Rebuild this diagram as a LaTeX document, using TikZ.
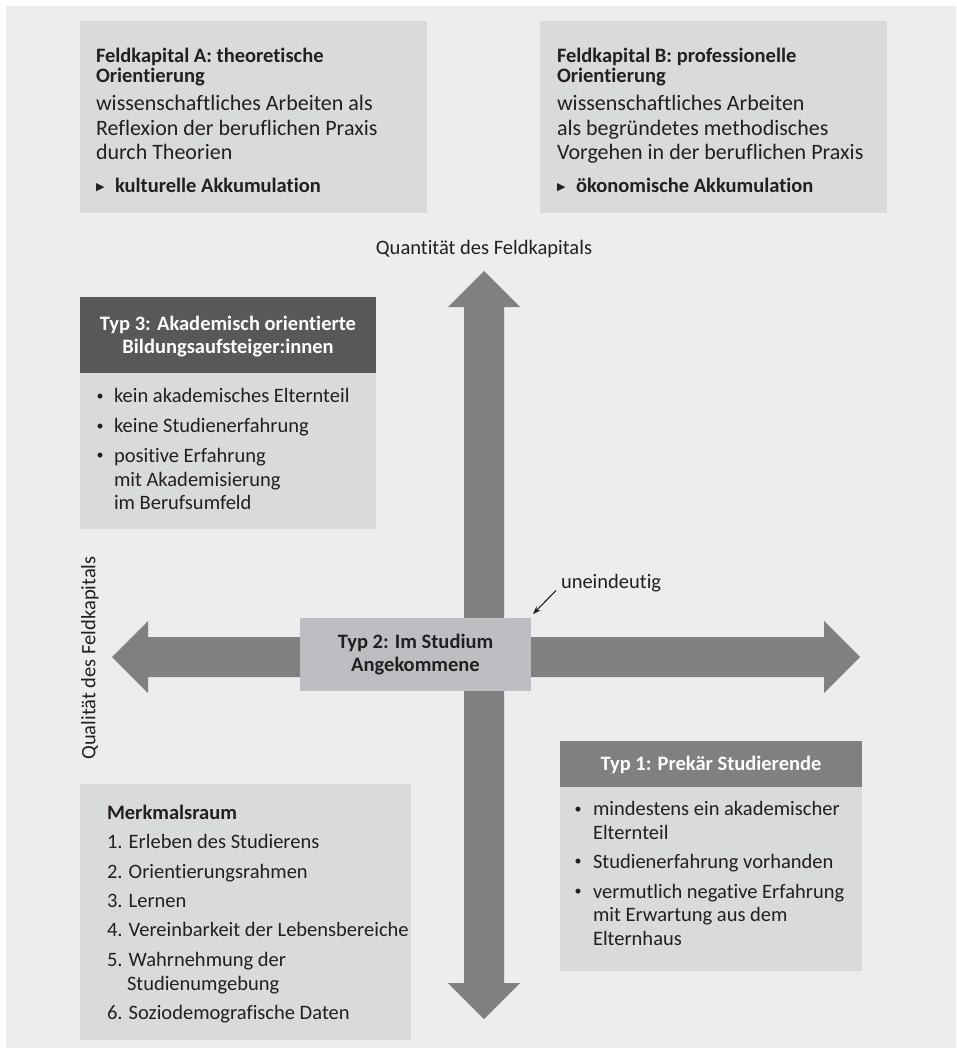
\documentclass[tikz,border=0pt]{standalone}
\usepackage{fontspec}
\setmainfont{Carlito}[Ligatures=NoCommon]
\newfontfamily\symfont{DejaVu Sans}
\usetikzlibrary{arrows.meta}
\definecolor{bgc}{HTML}{EDEDED}
\definecolor{boxc}{HTML}{D9DADC}
\definecolor{arrc}{HTML}{808083}
\definecolor{midc}{HTML}{BDBEC1}
\definecolor{darkc}{HTML}{58585A}
\definecolor{txtc}{HTML}{231F20}
\newcommand\fsz{\fontsize{20.5}{24}\selectfont}
\newcommand\fszl{\fontsize{22}{26}\selectfont}
\newcommand\tri{\makebox[19pt][l]{\symfont\fontsize{11}{11}\selectfont\raisebox{1.5pt}{▶}}}
\newcommand\bu{{\fontsize{14}{14}\selectfont\raisebox{2.5pt}{•}}}
\tikzset{
  panel/.style={fill=#1, draw=none, inner sep=0pt, outer sep=0pt, anchor=north west},
  tx/.style={anchor=base west, inner sep=0pt, outer sep=0pt, text=txtc, font=\fsz},
  txb/.style={tx, font=\fsz\bfseries},
  txl/.style={tx, font=\fszl},
  hd/.style={anchor=base, inner sep=0pt, outer sep=0pt, text=white, font=\fsz\bfseries},
  bul/.style={anchor=base, inner sep=0pt, outer sep=0pt, text=txtc, font=\fsz},
  bigarrow/.style={fill=arrc, draw=none},
}
\begin{document}
\begin{tikzpicture}[x=1pt,y=-1pt]
\useasboundingbox (0,0) rectangle (956,1048);
\fill[bgc] (6,6) rectangle (956,1048);

% Feldkapital A
\node[panel=boxc, minimum width=347pt, minimum height=192pt] (boxA) at (80,21) {};
\node[txb] (a1) at (96,62.5) {Feldkapital A: theoretische};
\node[txb] (a2) at (96,83) {Orientierung};
\node[txl] (a3) at (96,111) {wissenschaftliches Arbeiten als};
\node[txl] (a4) at (96,136) {Reflexion der beruflichen Praxis};
\node[txl] (a5) at (96,160) {durch Theorien};
\node[txb] (a6) at (96,192.5) {\tri kulturelle Akkumulation};

% Feldkapital B
\node[panel=boxc, minimum width=347pt, minimum height=192pt] (boxB) at (540,21) {};
\node[txb] (b1) at (557,62.5) {Feldkapital B: professionelle};
\node[txb] (b2) at (557,83) {Orientierung};
\node[txl] (b3) at (557,111) {wissenschaftliches Arbeiten};
\node[txl] (b4) at (557,136) {als begründetes methodisches};
\node[txl] (b5) at (557,160) {Vorgehen in der beruflichen Praxis};
\node[txb] (b6) at (557,192.5) {\tri ökonomische Akkumulation};

% axes
\fill[bigarrow] (484,271) -- (520,307) -- (504,307) -- (504,983) -- (520,983)
  -- (484,1019) -- (448,983) -- (464,983) -- (464,307) -- (448,307) -- cycle;
\fill[bigarrow] (112,657) -- (148,621) -- (148,637) -- (824,637) -- (824,621)
  -- (860,657) -- (824,693) -- (824,677) -- (148,677) -- (148,693) -- cycle;
\node[tx, anchor=base] (quant) at (484,255) {Quantität des Feldkapitals};
\node[tx, anchor=center, rotate=90] (qual) at (90,658) {Qualität des Feldkapitals};

% Typ 3
\node[panel=boxc, minimum width=296pt, minimum height=232pt] (t3) at (80,297) {};
\node[panel=darkc, minimum width=296pt, minimum height=76pt] (t3h) at (80,297) {};
\node[hd] (t3h1) at (228,330) {Typ 3: Akademisch orientierte};
\node[hd] (t3h2) at (228,353.3) {Bildungsaufsteiger:innen};
\node[bul] (t3d1) at (100,402.7) {\bu};
\node[tx] (t3l1) at (114,402.7) {kein akademisches Elternteil};
\node[bul] (t3d2) at (100,432.7) {\bu};
\node[tx] (t3l2) at (114,432.7) {keine Studienerfahrung};
\node[bul] (t3d3) at (100,462.3) {\bu};
\node[tx] (t3l3) at (114,462.3) {positive Erfahrung};
\node[tx] (t3l4) at (114,486) {mit Akademisierung};
\node[tx] (t3l5) at (114,509.3) {im Berufsumfeld};

% Typ 2
\node[panel=midc, minimum width=231pt, minimum height=73pt] (t2) at (300,618) {};
\node[txb, anchor=base] (t2l1) at (415.5,648.3) {Typ 2: Im Studium};
\node[txb, anchor=base] (t2l2) at (415.5,671.7) {Angekommene};
\node[tx] (un) at (561,588) {uneindeutig};
\draw[txtc, line width=1.1pt, -{Stealth[length=8pt,width=6pt]}]
  ([shift={(-5,-1)}]un.south west) -- ([shift={(2,-4)}]t2.north east);

% Merkmalsraum
\node[panel=boxc, minimum width=331pt, minimum height=256pt] (mr) at (80,784) {};
\node[txb] (m0) at (107,819) {Merkmalsraum};
\node[tx] (m1) at (107,848.3) {1. Erleben des Studierens};
\node[tx] (m2) at (107,878.3) {2. Orientierungsrahmen};
\node[tx] (m3) at (107,907.3) {3. Lernen};
\node[tx] (m4) at (107,936.7) {4. Vereinbarkeit der Lebensbereiche};
\node[tx] (m5) at (107,966.7) {5. Wahrnehmung der};
\node[tx] (m5b) at (127,990) {Studienumgebung};
\node[tx] (m6) at (107,1019.3) {6. Soziodemografische Daten};

% Typ 1
\node[panel=boxc, minimum width=302pt, minimum height=230pt] (t1) at (560,741) {};
\node[panel=arrc, minimum width=302pt, minimum height=46pt] (t1h) at (560,741) {};
\node[hd] (t1h1) at (711,770) {Typ 1: Prekär Studierende};
\node[bul] (t1d1) at (578,815.7) {\bu};
\node[tx] (t1l1) at (593,815.7) {mindestens ein akademischer};
\node[tx] (t1l2) at (593,839) {Elternteil};
\node[bul] (t1d2) at (578,868.3) {\bu};
\node[tx] (t1l3) at (593,868.3) {Studienerfahrung vorhanden};
\node[bul] (t1d3) at (578,898.3) {\bu};
\node[tx] (t1l4) at (593,898.3) {vermutlich negative Erfahrung};
\node[tx] (t1l5) at (593,921.7) {mit Erwartung aus dem};
\node[tx] (t1l6) at (593,945.7) {Elternhaus};
\end{tikzpicture}
\end{document}
